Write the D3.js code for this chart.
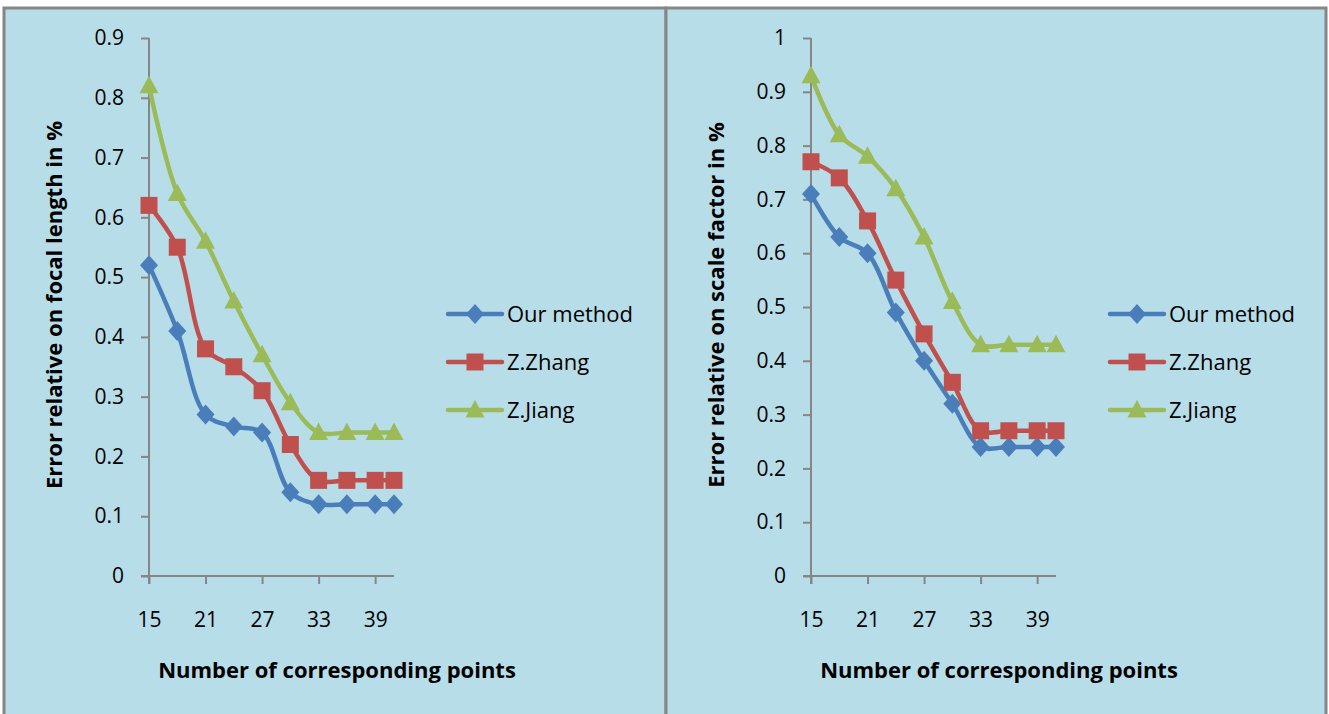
<!DOCTYPE html>
<html>
<head>
<meta charset="utf-8">
<script src="https://cdn.jsdelivr.net/npm/d3@7"></script>
<style>
  body { margin: 0; background: #ffffff; }
  svg { display: block; }
</style>
</head>
<body>
<div id="container"></div>
<script>
let w = 1329;
let h = 714;

// data
let pointCounts = [15, 18, 21, 24, 27, 30, 33, 36, 39, 41];
let xTickValues = [15, 21, 27, 33, 39];
let seriesNames = ["Our method", "Z.Zhang", "Z.Jiang"];

let focalOurs = [0.52, 0.41, 0.27, 0.25, 0.24, 0.14, 0.12, 0.12, 0.12, 0.12];
let focalZhang = [0.62, 0.55, 0.38, 0.35, 0.31, 0.22, 0.16, 0.16, 0.16, 0.16];
let focalJiang = [0.82, 0.64, 0.56, 0.46, 0.37, 0.29, 0.24, 0.24, 0.24, 0.24];

let scaleOurs = [0.71, 0.63, 0.60, 0.49, 0.40, 0.32, 0.24, 0.24, 0.24, 0.24];
let scaleZhang = [0.77, 0.74, 0.66, 0.55, 0.45, 0.36, 0.27, 0.27, 0.27, 0.27];
let scaleJiang = [0.93, 0.82, 0.78, 0.72, 0.63, 0.51, 0.43, 0.43, 0.43, 0.43];

let focalYTicks = [0, 0.1, 0.2, 0.3, 0.4, 0.5, 0.6, 0.7, 0.8, 0.9];
let scaleYTicks = [0, 0.1, 0.2, 0.3, 0.4, 0.5, 0.6, 0.7, 0.8, 0.9, 1];

let colors = ["#4a7ebb", "#c0504d", "#9bbb59"];
let markerTypes = ["diamond", "square", "triangle"];

let fontFamily = "'Open Sans', sans-serif";

let viz = d3.select("#container")
  .append("svg")
  .attr("width", w)
  .attr("height", h)
  .style("font-family", fontFamily)
  ;

// marker shapes, centred on 0,0
function markerPath(type) {
  if (type == "diamond") {
    return "M0,-10L9,0L0,10L-9,0Z";
  } else if (type == "square") {
    return "M-8.5,-8.5H8.5V8.5H-8.5Z";
  } else {
    return "M0,-10L9.5,7.5H-9.5Z";
  }
}

function tickFormat(d) {
  return String(+d.toFixed(1));
}

function drawChart(opts) {
  let g = viz.append("g").attr("class", "chart");

  // panel background + frame
  g.append("rect")
    .attr("x", opts.left)
    .attr("y", 8)
    .attr("width", opts.right - opts.left)
    .attr("height", h)
    .attr("fill", "#b7dde8")
    .attr("stroke", "#868686")
    .attr("stroke-width", 3)
    ;

  let xScale = d3.scaleLinear().domain([15, 41]).range([opts.x0, opts.x1]);
  let yScale = d3.scaleLinear().domain([0, opts.yMax]).range([576, 38]);

  // Y AXIS
  let yAxis = d3.axisLeft(yScale)
    .tickValues(opts.yTicks)
    .tickFormat(tickFormat)
    .tickSize(8)
    .tickPadding(17)
    ;
  let yAxisGroup = g.append("g").attr("class", "yaxis")
    .attr("transform", "translate(" + opts.x0 + ", 0)")
    .call(yAxis);
  yAxisGroup.select(".domain").attr("d", "M0,38V584");

  // X AXIS
  let xAxis = d3.axisBottom(xScale)
    .tickValues(xTickValues)
    .tickSize(8)
    .tickPadding(28)
    ;
  let xAxisGroup = g.append("g").attr("class", "xaxis")
    .attr("transform", "translate(0, 576)")
    .call(xAxis);
  xAxisGroup.select(".domain").attr("d", "M" + (opts.x0 - 8) + ",0H" + opts.x1);

  g.selectAll(".domain, .tick line")
    .attr("stroke", "#868686")
    .attr("stroke-width", 2)
    ;
  g.selectAll(".tick text")
    .attr("fill", "#000")
    .style("font-family", fontFamily)
    .style("font-size", "21px")
    ;

  // axis titles
  g.append("text")
    .attr("x", opts.x0 + 188)
    .attr("y", 678)
    .attr("text-anchor", "middle")
    .style("font-size", "22px")
    .style("font-weight", "bold")
    .text("Number of corresponding points")
    ;

  g.append("text")
    .attr("transform", "translate(" + opts.yTitleX + ", 305) rotate(-90)")
    .attr("text-anchor", "middle")
    .style("font-size", "22px")
    .style("font-weight", "bold")
    .text(opts.yTitle)
    ;

  // lines
  let lineMaker = d3.line()
    .x(function(d) { return xScale(d.x); })
    .y(function(d) { return yScale(d.y); })
    .curve(d3.curveCatmullRom.alpha(0.5))
    ;

  opts.series.forEach(function(values, i) {
    let pts = values.map(function(v, j) {
      return { x: pointCounts[j], y: v };
    });

    g.append("path")
      .datum(pts)
      .attr("d", lineMaker)
      .attr("fill", "none")
      .attr("stroke", colors[i])
      .attr("stroke-width", 4.5)
      .attr("stroke-linejoin", "round")
      ;

    g.selectAll(".marker" + i).data(pts).enter()
      .append("path")
      .attr("class", "marker" + i)
      .attr("d", markerPath(markerTypes[i]))
      .attr("fill", colors[i])
      .attr("transform", function(d) {
        return "translate(" + xScale(d.x) + ", " + yScale(d.y) + ")";
      })
      ;
  });

  // legend
  let legend = g.append("g").attr("class", "legend")
    .attr("transform", "translate(" + opts.legendX + ", 0)");

  let rows = legend.selectAll(".row").data(seriesNames).enter()
    .append("g")
    .attr("class", "row")
    .attr("transform", function(d, i) { return "translate(0, " + (314 + i * 48) + ")"; })
    ;

  rows.append("line")
    .attr("x1", 0)
    .attr("x2", 54)
    .attr("stroke", function(d, i) { return colors[i]; })
    .attr("stroke-width", 4.5)
    .attr("stroke-linecap", "round")
    ;

  rows.append("path")
    .attr("d", function(d, i) { return markerPath(markerTypes[i]); })
    .attr("fill", function(d, i) { return colors[i]; })
    .attr("transform", "translate(27, 0)")
    ;

  rows.append("text")
    .attr("x", 59)
    .attr("y", 8)
    .style("font-size", "22px")
    .text(function(d) { return d; })
    ;
}

drawChart({
  left: 4, right: 666,
  x0: 149, x1: 394,
  yMax: 0.9, yTicks: focalYTicks,
  yTitle: "Error relative on focal length in %", yTitleX: 62,
  series: [focalOurs, focalZhang, focalJiang],
  legendX: 448
});

drawChart({
  left: 666, right: 1326,
  x0: 811, x1: 1056,
  yMax: 1, yTicks: scaleYTicks,
  yTitle: "Error relative on scale factor in %", yTitleX: 724,
  series: [scaleOurs, scaleZhang, scaleJiang],
  legendX: 1110
});
</script>
</body>
</html>
